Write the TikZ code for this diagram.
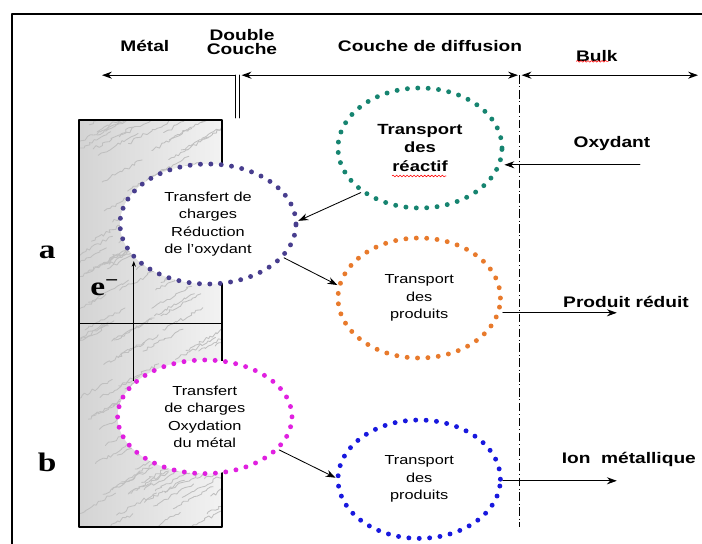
\documentclass[tikz,border=0pt]{standalone}
\usepackage{fontspec}
\setmainfont[FakeStretch=1.25]{Liberation Sans}
\newfontfamily\lettre[FakeStretch=1.25]{Liberation Serif}
\usetikzlibrary{shapes.geometric,decorations.pathmorphing,arrows.meta}
\definecolor{anneauA}{RGB}{72,62,142}
\definecolor{anneauB}{RGB}{224,32,224}
\definecolor{anneauC}{RGB}{22,132,112}
\definecolor{anneauD}{RGB}{232,122,44}
\definecolor{anneauE}{RGB}{24,24,222}

\begin{document}
\begin{tikzpicture}[line cap=round,line join=round,>={Stealth[length=7pt,width=5pt]},every node/.style={inner sep=1pt},
  titre/.style={font=\bfseries\fontsize{10.9}{10}\selectfont,align=center},
  lettreb/.style={font=\lettre\bfseries\fontsize{19}{19}\selectfont},
  anneau/.style={ellipse,draw=#1,fill=white,line width=3.5pt,dash pattern=on 0pt off 7.4pt,
    inner sep=0pt,minimum width=4.1cm,minimum height=3cm,align=center,
    font=\fontsize{9.3}{12.4}\selectfont},
  fleche/.style={->,line width=0.6pt}]
  \useasboundingbox (0,0) rectangle (17.55,13.6);
  \draw[line width=1.3pt,line cap=butt] (0.30,0) -- (0.30,13.25) -- (17.55,13.25);

  % metal
  \shade[left color=gray!34,right color=gray!10] (1.98,0.42) rectangle (5.55,10.6);
  \begin{scope}
    \clip (1.98,0.42) rectangle (5.55,10.6);
    \pgfmathsetseed{7}
    \foreach \k in {1,...,140}{
      \pgfmathsetmacro\xa{1.6+3.8*rnd}
      \pgfmathsetmacro\ya{0.2+10.6*rnd}
      \draw[gray!50,line width=0.6pt,decorate,decoration={random steps,segment length=2pt,amplitude=1.2pt}]
        (\xa,\ya) -- ++(1.0,0.55);
    }
  \end{scope}
  \draw[line width=1.1pt] (1.98,0.42) rectangle (5.55,10.6);
  \draw[line width=0.9pt] (1.98,5.52) -- (5.55,5.52);

  \node[titre] (metal) at (3.62,12.45) {Métal};
  \node[titre] (dbl) at (6.05,12.55) {Double\\Couche};
  \node[titre] (diff) at (10.75,12.45) {Couche de diffusion};
  \node[titre] (bulk) at (14.92,12.2) {Bulk};
  \draw[red,line width=0.4pt,decorate,decoration={snake,amplitude=0.6pt,segment length=2.5pt}]
    (bulk.south west) ++(0.05,0.05) -- ++(0.8,0);

  \draw[fleche,line width=0.8pt] (5.88,11.72) -- (2.55,11.72);
  \draw[line width=0.7pt] (5.88,11.72) -- (5.88,10.65);
  \draw[line width=0.7pt] (5.98,11.72) -- (5.98,10.65);
  \draw[<->,line width=0.8pt] (6.04,11.72) -- (12.95,11.72);
  \draw[<->,line width=0.8pt] (13.04,11.72) -- (17.45,11.72);
  \draw[line width=0.5pt,line cap=butt,dash pattern=on 6pt off 2pt on 0.6pt off 2pt] (12.99,11.72) -- (12.99,0.42);

  \node[anneau=anneauA,minimum width=4.4cm] (c1) at (5.2,8.0) {Transfert de\\charges\\Réduction\\de l’oxydant};
  \node[anneau=anneauB,minimum width=4.36cm,minimum height=2.84cm] (c2) at (5.12,3.18) {Transfert\\de charges\\Oxydation\\du métal};
  \node[anneau=anneauC,font=\bfseries\fontsize{10.5}{13}\selectfont] (c3) at (10.5,9.9) {Transport\\des\\réactif};
  \node[anneau=anneauD,minimum width=4.06cm] (c4) at (10.48,6.15) {Transport\\des\\produits};
  \node[anneau=anneauE,minimum width=4.06cm,minimum height=2.96cm] (c5) at (10.48,1.62) {Transport\\des\\produits};
  \draw[red,line width=0.4pt,decorate,decoration={snake,amplitude=0.6pt,segment length=2.5pt}]
    (9.8,9.2) -- (11.15,9.2);

  \node[lettreb] (a) at (1.18,7.3) {a};
  \node[lettreb] (b) at (1.18,2.05) {b};
  \node[lettreb] (el) at (2.62,6.4) {e\textsuperscript{−}};

  \node[titre] (oxy) at (15.3,10.0) {Oxydant};
  \node[titre] (prod) at (15.65,6.05) {Produit réduit};
  \node[titre] (ion) at (15.72,2.12) {Ion\ \ métallique};
  \coordinate (ox) at (16.0,9.48);
  \coordinate (pr) at (15.42,5.78);
  \coordinate (io) at (15.42,1.58);

  \draw[fleche] (ox) -- (ox -| c3.east);
  \draw[fleche] (c3.217) -- (c1.2);
  \draw[fleche] (c1.-24) -- (c4.171);
  \draw[fleche] (c2.-24) -- (c5.179);
  \draw[fleche] (pr -| c4.east) -- (pr);
  \draw[fleche] (io -| c5.east) -- (io);
  \draw[->,>={Stealth[length=4pt,width=3pt]},line width=0.5pt] (c2.153) -- (c2.153 |- c1.207);
\end{tikzpicture}
\end{document}
